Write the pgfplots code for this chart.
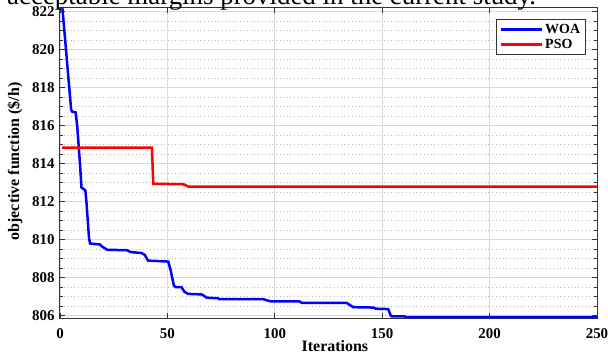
\documentclass[border=0pt]{standalone}
\usepackage{pgfplots}
\pgfplotsset{compat=1.18}
\usepackage{fontspec}
\setmainfont{Liberation Serif}

\pgfplotstableread{
it val
0.8 822.6
2.8 820.0
4.3 818.0
5.2 816.85
5.6 816.75
7.3 816.7
8.0 816.0
9.3 814.0
10.0 812.75
11.8 812.6
12.3 812.0
13.5 810.1
14.0 809.8
18.6 809.75
19.5 809.65
22.0 809.47
31.0 809.45
33.0 809.35
38.0 809.3
39.5 809.2
41.0 808.9
45.0 808.88
50.4 808.85
51.5 808.4
53.0 807.6
53.8 807.5
56.6 807.5
58.0 807.25
59.7 807.15
66.0 807.12
68.3 806.95
73.6 806.92
74.0 806.88
94.5 806.88
96.0 806.82
98.0 806.76
111.5 806.75
112.5 806.68
133.5 806.67
136.5 806.45
146.0 806.43
147.0 806.37
152.8 806.35
154.0 806.0
154.5 805.96
160.5 805.96
161.0 805.93
250.0 805.93
}\woa

\pgfplotstableread{
it val
1.0 814.85
42.8 814.85
43.4 812.95
57.5 812.92
59.7 812.8
250.0 812.8
}\pso

\begin{document}
\begin{tikzpicture}
\begin{axis}[
  scale only axis, width=537bp, height=310bp,
  xmin=0, xmax=250, ymin=805.88, ymax=822.2,
  xtick={0,50,...,250}, ytick={806,808,...,822},
  minor y tick num=3,
  grid=both,
  tick align=inside, tick pos=both,
  major tick length=5bp, minor tick length=3bp,
  every tick/.style={black!80, line width=0.8bp},
  axis line style={black!80, line width=1bp},
  major grid style={gray!30, line width=0.8bp},
  minor grid style={gray!55, line width=0.7bp, dash pattern=on 0.8bp off 2.8bp},
  tick label style={font=\fontsize{15}{17}\selectfont\bfseries},
  /pgf/number format/assume math mode=true,
  xticklabel style={yshift=-7bp},
  yticklabel style={xshift=-2bp},
  xlabel={Iterations},
  ylabel={objective function (\$/h)},
  label style={font=\fontsize{16}{18}\selectfont\bfseries},
  xlabel style={at={(axis description cs:0.512,0)}, anchor=base, yshift=-33bp},
  ylabel style={at={(axis description cs:-0.0838,0.505)}, anchor=center},
  legend style={at={(0.9795,0.9645)}, anchor=north east, draw=black!80, line width=0.8bp,
    fill=white, font=\fontsize{14}{15}\selectfont\bfseries, inner xsep=3.5bp, inner ysep=2.6bp,
    row sep=0.4bp, cells={anchor=west}},
  legend image code/.code={\draw[#1, line width=2.6bp] (0bp,0bp) -- (41bp,0bp);},
]
\addplot[blue, line width=2.5bp] table[x=it, y=val] {\woa};
\addlegendentry{WOA}
\addplot[red, line width=2.5bp] table[x=it, y=val] {\pso};
\addlegendentry{PSO}
\end{axis}
\node[anchor=base west, font=\fontsize{27}{30}\selectfont, inner sep=0] at (-53bp,313.5bp) {acceptable margins provided in the current study.};
\pgfresetboundingbox
\useasboundingbox (-60bp,-36bp) rectangle (548bp,318bp);
\end{tikzpicture}
\end{document}
